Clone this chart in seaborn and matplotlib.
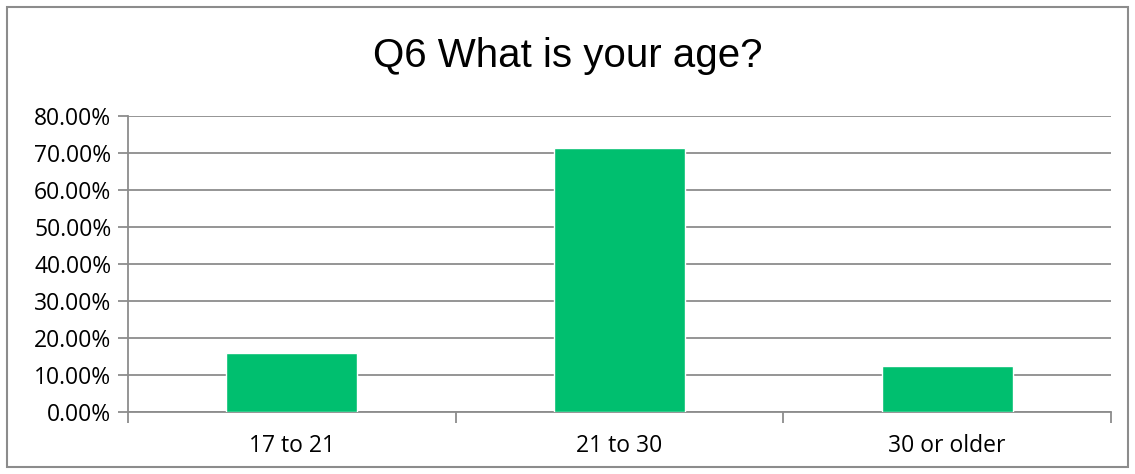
import seaborn as sns
import matplotlib.pyplot as plt
from matplotlib.patches import Rectangle
from matplotlib.ticker import FuncFormatter

# Antworten auf Q6
categories = ['17 to 21', '21 to 30', '30 or older']
shares = [16.07, 71.43, 12.50]
y_ticks = [0, 10, 20, 30, 40, 50, 60, 70, 80]

sns.set_style('white')
plt.rcParams['font.family'] = ['Open Sans', 'DejaVu Sans']
plt.rcParams['text.color'] = 'black'
plt.rcParams['xtick.color'] = 'black'
plt.rcParams['ytick.color'] = 'black'

fig = plt.figure(figsize=(11.35, 4.74), dpi=100)
ax = fig.add_axes([0.1128, 0.1308, 0.8661, 0.6245])

sns.barplot(x=categories, y=shares, color='#00BF6F', width=0.4, saturation=1, ax=ax, zorder=3)

ax.set_ylim(0, 80)
ax.set_xlim(-0.5, 2.5)
ax.set_yticks(y_ticks)
ax.yaxis.set_major_formatter(FuncFormatter(lambda v, p: f'{v:.2f}%'))
ax.yaxis.grid(True, color='#8c8c8c', linewidth=1.3, zorder=0)

for s in ['top', 'right']:
    ax.spines[s].set_visible(False)
for s in ['left', 'bottom']:
    ax.spines[s].set_color('#8c8c8c')
    ax.spines[s].set_linewidth(1.3)

ax.tick_params(axis='y', left=True, length=7, width=1.3, color='#8c8c8c', labelsize=16.5, pad=5)
ax.set_xticks([-0.5, 0.5, 1.5, 2.5], minor=True)
ax.tick_params(axis='x', which='major', length=0, labelsize=16.5, pad=16)
ax.tick_params(axis='x', which='minor', bottom=True, length=8, width=1.3, color='#8c8c8c')

fig.text(0.5, 0.882, 'Q6 What is your age?', ha='center', va='center',
         fontsize=29, family=['Liberation Sans', 'DejaVu Sans'])

# grauer Rahmen um das ganze Diagramm
fig.patches.append(Rectangle((7 / 1135, 7 / 474), 1121 / 1135, 460 / 474, transform=fig.transFigure,
                             fill=False, edgecolor='#8c8c8c', linewidth=1.5))

fig.savefig('out.png', dpi=100)
